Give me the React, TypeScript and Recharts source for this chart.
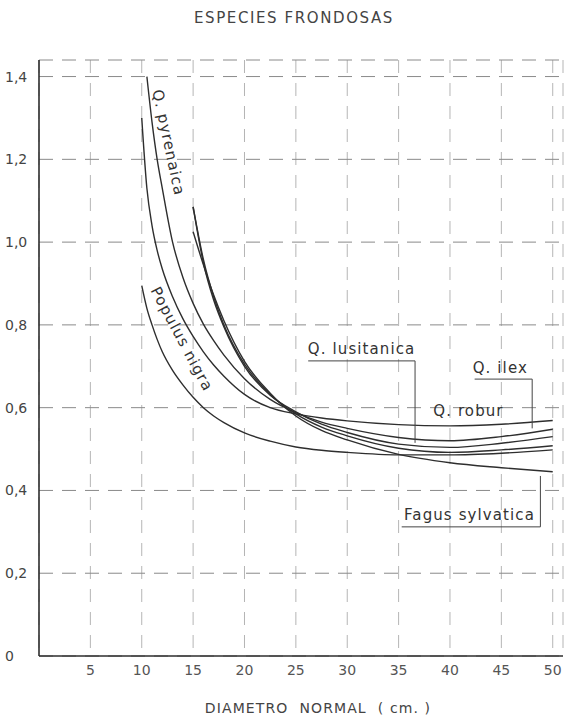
import React from 'react';
import { LineChart, Line, XAxis, YAxis, CartesianGrid, ReferenceLine, ReferenceDot } from 'recharts';

// diametro normal (cm) donde se leen las curvas
const diametro = [10, 10.5, 11, 11.5, 12, 13, 14, 15, 16, 17, 18, 20, 22.5, 25, 27.5, 30, 35, 40, 45, 50];

// valores (null = la curva aun no empieza)
const qRobur = [1.3, 1.13, 1.04, 0.98, 0.935, 0.868, 0.815, 0.772, 0.735, 0.703, 0.676, 0.632, 0.6, 0.585, 0.575, 0.568, 0.559, 0.556, 0.56, 0.569];
const qPyrenaica = [null, 1.4, 1.29, 1.2, 1.13, 1.0, 0.915, 0.852, 0.802, 0.762, 0.727, 0.67, 0.62, 0.588, 0.565, 0.55, 0.528, 0.52, 0.53, 0.548];
const qLusitanica = [null, null, null, null, null, null, null, 1.085, 0.95, 0.86, 0.795, 0.7, 0.63, 0.59, 0.56, 0.54, 0.512, 0.504, 0.514, 0.53];
const qIlex = [null, null, null, null, null, null, null, 1.085, 0.958, 0.868, 0.8, 0.705, 0.632, 0.585, 0.553, 0.532, 0.502, 0.492, 0.498, 0.508];
const fagusSylvatica = [null, null, null, null, null, null, null, 1.025, 0.945, 0.872, 0.81, 0.712, 0.635, 0.58, 0.545, 0.522, 0.487, 0.467, 0.455, 0.445];
const populusNigra = [0.895, 0.84, 0.8, 0.765, 0.735, 0.69, 0.655, 0.625, 0.6, 0.58, 0.564, 0.539, 0.519, 0.505, 0.497, 0.492, 0.486, 0.486, 0.49, 0.498];

const xTicks = [5, 10, 15, 20, 25, 30, 35, 40, 45, 50];
const yTicks = [0, 0.2, 0.4, 0.6, 0.8, 1.0, 1.2, 1.4];

const seriesKeys = ['robur', 'pyrenaica', 'lusitanica', 'ilex', 'fagus', 'populus'];

const data = diametro.map((d, i) => ({
  d,
  robur: qRobur[i],
  pyrenaica: qPyrenaica[i],
  lusitanica: qLusitanica[i],
  ilex: qIlex[i],
  fagus: fagusSylvatica[i],
  populus: populusNigra[i],
}));

// rotulos de las curvas (posicion en unidades del grafico)
const labels = [
  { text: 'Q. pyrenaica', x: 12.55, y: 1.24, angle: 78 },
  { text: 'Populus nigra', x: 13.85, y: 0.765, angle: 62 },
  { text: 'Q. lusitanica', x: 31.4, y: 0.74, angle: 0 },
  { text: 'Q. ilex', x: 44.9, y: 0.695, angle: 0 },
  { text: 'Q. robur', x: 41.8, y: 0.59, angle: 0 },
  { text: 'Fagus sylvatica', x: 41.9, y: 0.34, angle: 0 },
];

// lineas de referencia de los rotulos
const leaders = [
  [{ x: 26.2, y: 0.713 }, { x: 36.6, y: 0.713 }],
  [{ x: 36.6, y: 0.713 }, { x: 36.6, y: 0.515 }],
  [{ x: 42.4, y: 0.669 }, { x: 48.0, y: 0.669 }],
  [{ x: 48.0, y: 0.669 }, { x: 48.0, y: 0.55 }],
  [{ x: 35.3, y: 0.312 }, { x: 48.8, y: 0.312 }],
  [{ x: 48.8, y: 0.312 }, { x: 48.8, y: 0.435 }],
];

const font = '"DejaVu Sans", sans-serif';
const ink = '#2e2e2e';

const fmtY = (v: number) => (v === 0 ? '0' : v.toFixed(1).replace('.', ','));

const YTick = (props: any) => {
  const { y, payload } = props;
  return (
    <text x={5} y={y} dy={5} fill="#444" fontSize={14} fontFamily={font}>
      {fmtY(payload.value)}
    </text>
  );
};

const XTick = (props: any) => {
  const { x, y, payload } = props;
  return (
    <text x={x} y={y} dy={17} fill="#555" fontSize={14} fontFamily={font} textAnchor="middle">
      {payload.value}
    </text>
  );
};

const labelShape = (text: string, angle: number) => (p: any) => (
  <text
    x={p.cx}
    y={p.cy}
    fill="#333"
    fontSize={15}
    letterSpacing={1.1}
    fontFamily={font}
    textAnchor="middle"
    dominantBaseline="middle"
    transform={angle ? `rotate(${angle}, ${p.cx}, ${p.cy})` : undefined}
  >
    {text}
  </text>
);

export default function App() {
  return (
    <div style={{ position: 'absolute', left: 0, top: 0, width: 568, height: 721, background: '#fff' }}>
      <div
        style={{
          position: 'absolute', top: 9, left: 0, width: 588, textAlign: 'center',
          fontFamily: font, fontSize: 15, letterSpacing: 1.6, color: '#444',
        }}
      >
        ESPECIES FRONDOSAS
      </div>
      <LineChart width={568} height={721} data={data} margin={{ top: 60, right: 5, bottom: 0, left: 0 }}>
        <CartesianGrid horizontal={false} stroke="#b5b5b5" strokeDasharray="13 10" />
        <CartesianGrid vertical={false} stroke="#8a8a8a" strokeDasharray="14 9" />
        <XAxis
          dataKey="d"
          type="number"
          domain={[0, 51]}
          ticks={xTicks}
          allowDataOverflow
          height={65}
          tickSize={0}
          tickLine={false}
          axisLine={{ stroke: ink, strokeWidth: 1.6 }}
          tick={<XTick />}
        />
        <YAxis
          type="number"
          domain={[0, 1.44]}
          ticks={yTicks}
          allowDataOverflow
          width={39}
          tickSize={0}
          tickLine={false}
          axisLine={{ stroke: ink, strokeWidth: 1.6 }}
          tick={<YTick />}
        />
        {seriesKeys.map((k) => (
          <Line
            key={k}
            dataKey={k}
            type="monotone"
            stroke={ink}
            strokeWidth={1.4}
            dot={false}
            activeDot={false}
            isAnimationActive={false}
          />
        ))}
        {leaders.map((seg, i) => (
          <ReferenceLine key={'l' + i} segment={seg} stroke="#444" strokeWidth={1} />
        ))}
        {labels.map((l) => (
          <ReferenceDot key={l.text} x={l.x} y={l.y} r={0} shape={labelShape(l.text, l.angle)} />
        ))}
      </LineChart>
      <div
        style={{
          position: 'absolute', top: 700, left: 0, width: 636, textAlign: 'center',
          fontFamily: font, fontSize: 14, letterSpacing: 1.1, color: '#444', whiteSpace: 'pre',
        }}
      >
        DIAMETRO  NORMAL  ( cm. )
      </div>
    </div>
  );
}
